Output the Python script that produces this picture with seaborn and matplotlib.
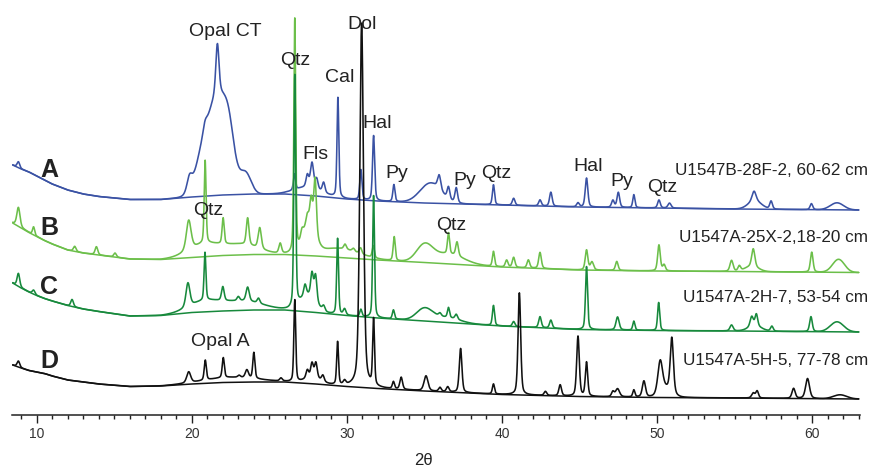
import numpy as np
import pandas as pd
import matplotlib
matplotlib.use("Agg")
import matplotlib.pyplot as plt
from matplotlib.ticker import MultipleLocator
import seaborn as sns

# ---------------- data (2θ in degrees, intensity in stacked arbitrary units) -------------
bg_x = [8.45, 9, 9.5, 10, 10.5, 11, 12, 13, 14, 16, 18, 20, 22, 24, 26, 28, 30, 32, 35, 40, 45, 50, 55, 63]
bg_A = [250, 246, 243, 239, 235, 231, 225, 221, 218.5, 215.5, 215.5, 218, 220, 221, 221, 219, 216, 214, 212, 210, 208, 207, 206, 205]
bg_B = [192, 187, 182.5, 178.5, 174.5, 171, 165, 162, 160, 156, 155.5, 157.5, 159.5, 160.5, 160.5, 159, 157, 155, 152.5, 148, 145, 144, 143.5, 142.5]
bg_C = [132, 127, 123, 119.5, 116.5, 114, 109.5, 106, 103.5, 99, 99.5, 102.5, 104, 105, 105, 102.5, 99.5, 97, 94, 89, 85.5, 84.5, 84, 83]
bg_D = [50, 47, 44.5, 43, 41.5, 39, 35, 33, 31, 28.5, 29, 31, 32.5, 33, 33, 31, 28.5, 26.5, 24, 20.5, 18.5, 17.5, 17, 16]

# sharp reflections: position, height above background, half width
A_pk_pos = [8.82, 19.85, 20.85, 21.65, 26.62, 27.45, 27.75, 28.05, 28.5, 29.42, 30.9, 31.72, 33.03, 35.95,
            36.55, 37.05, 39.45, 40.75, 42.45, 43.15, 44.9, 45.45, 47.15, 47.5, 48.5, 50.12, 50.8, 56.25, 57.35, 59.95]
A_pk_h = [6, 15, 8, 50, 16, 12, 25, 10, 10, 100, 30, 65, 17, 14,
          12, 15, 20, 7, 6, 14, 4, 29, 7, 15, 13, 8, 5, 10, 8, 6]
A_pk_w = [0.1, 0.2, 0.15, 0.12, 0.08, 0.1, 0.12, 0.1, 0.1, 0.07, 0.08, 0.08, 0.08, 0.12,
          0.1, 0.1, 0.08, 0.1, 0.1, 0.1, 0.1, 0.1, 0.1, 0.1, 0.08, 0.1, 0.12, 0.15, 0.1, 0.1]
# broad (amorphous / poorly crystalline) contributions
A_hump_pos = [21.7, 20.6, 22.4, 23.5, 27.5, 35.4, 56.3, 61.6]
A_hump_h = [100, 20, 22, 18, 8, 20, 8, 7]
A_hump_w = [0.85, 0.5, 0.35, 0.4, 1.0, 0.8, 0.5, 0.5]

B_pk_pos = [8.82, 9.8, 12.45, 13.85, 15.05, 19.8, 20.86, 22.02, 23.6, 24.38, 25.7, 26.64, 27.1, 27.45, 27.7,
            27.95, 29.88, 30.42, 30.88, 31.7, 33.05, 36.55, 37.1, 39.45, 40.3, 40.75, 41.7, 42.45, 45.45,
            45.8, 47.4, 50.12, 50.45, 54.8, 55.3, 56.2, 59.97]
B_pk_h = [19, 8, 5, 8, 4, 30, 83, 26, 27, 21, 10, 234, 8, 8, 25,
          55, 5, 3, 6, 12, 24, 21, 14, 15, 7, 10, 8, 16, 20,
          8, 9, 26, 6, 11, 5, 18, 20]
B_pk_w = [0.12, 0.08, 0.1, 0.1, 0.1, 0.18, 0.07, 0.08, 0.1, 0.12, 0.1, 0.07, 0.1, 0.1, 0.1,
          0.1, 0.1, 0.1, 0.1, 0.08, 0.08, 0.08, 0.1, 0.08, 0.1, 0.1, 0.1, 0.1, 0.1,
          0.12, 0.1, 0.1, 0.1, 0.12, 0.1, 0.12, 0.1]
B_hump_pos = [20.8, 23.2, 27.55, 29.5, 35.0, 36.5, 56.1, 61.7]
B_hump_h = [12, 10, 30, 9, 16, 10, 5, 13]
B_hump_w = [1.2, 1.3, 0.45, 1.5, 0.6, 1.2, 0.5, 0.45]

C_pk_pos = [8.82, 9.8, 12.28, 19.75, 20.85, 22.0, 23.0, 23.6, 24.3, 26.64, 27.3, 27.75, 27.98, 28.5, 29.4,
            29.85, 30.9, 31.72, 33.0, 36.0, 36.55, 37.05, 39.45, 40.75, 42.45, 43.15, 45.45, 47.45, 48.5,
            50.1, 54.8, 56.1, 56.4, 57.4, 59.92]
C_pk_h = [13, 4, 7, 24, 48, 14, 4, 14, 5, 232, 11, 24, 26, 5, 76,
          6, 7, 122, 9, 3, 10, 5, 20, 5, 11, 8, 63, 13, 9,
          28, 6, 10, 12, 5, 15]
C_pk_w = [0.1, 0.1, 0.1, 0.15, 0.07, 0.1, 0.1, 0.12, 0.1, 0.07, 0.1, 0.1, 0.1, 0.1, 0.07,
          0.1, 0.08, 0.07, 0.08, 0.1, 0.08, 0.1, 0.08, 0.1, 0.1, 0.1, 0.08, 0.12, 0.08,
          0.08, 0.12, 0.12, 0.1, 0.1, 0.1]
C_hump_pos = [20.8, 23.3, 27.5, 35.0, 36.4, 56.3, 61.6]
C_hump_h = [10, 9, 16, 12, 5, 5, 10]
C_hump_w = [1.2, 1.5, 0.6, 0.6, 1.0, 0.5, 0.5]

D_pk_pos = [8.82, 19.8, 20.87, 22.03, 23.05, 23.55, 24.0, 25.75, 26.64, 27.45, 27.75, 28.0, 28.45, 29.4,
            29.85, 30.95, 31.72, 33.0, 33.5, 35.1, 36.0, 36.5, 37.33, 39.45, 41.12, 42.8, 43.75, 44.9,
            45.45, 47.15, 47.45, 48.5, 49.15, 50.2, 50.95, 56.2, 56.45, 58.8, 59.7]
D_pk_h = [6, 11, 20, 20, 2, 8, 26, 3, 82, 8, 14, 15, 6, 43,
          4, 364, 66, 7, 12, 15, 4, 5, 44, 10, 102, 4, 11, 60,
          34, 5, 8, 7, 16, 33, 55, 5, 7, 10, 20]
D_pk_w = [0.1, 0.15, 0.08, 0.08, 0.1, 0.12, 0.08, 0.1, 0.07, 0.1, 0.1, 0.1, 0.1, 0.07,
          0.1, 0.14, 0.07, 0.08, 0.1, 0.15, 0.1, 0.1, 0.1, 0.08, 0.1, 0.1, 0.1, 0.1,
          0.09, 0.1, 0.15, 0.08, 0.12, 0.18, 0.12, 0.12, 0.1, 0.12, 0.15]
D_hump_pos = [22.5, 27.8, 50.6, 61.8]
D_hump_h = [5, 6, 8, 4]
D_hump_w = [2.0, 0.6, 0.4, 0.5]

sample_ids = ["A", "B", "C", "D"]
sample_names = ["U1547B-28F-2, 60-62 cm", "U1547A-25X-2,18-20 cm",
                "U1547A-2H-7, 53-54 cm", "U1547A-5H-5, 77-78 cm"]
colors = ["#3a52a4", "#6cbf4a", "#17893c", "#111111"]

peak_labels = ["Opal CT", "Qtz", "Dol", "Cal", "Hal", "Fls", "Py", "Py", "Qtz", "Hal", "Py", "Qtz",
               "Qtz", "Qtz", "Opal A"]
peak_label_x = [22.14, 26.65, 30.95, 29.56, 31.96, 27.97, 33.24, 37.58, 39.64, 45.56, 47.7, 50.34,
                21.07, 36.76, 21.85]
peak_label_y = [379, 350, 386, 333, 287, 256, 236.7, 230, 237.3, 244.3, 229, 223.3,
                200, 185, 69.3]
id_label_y = [238.3, 180, 121, 46.7]
name_label_y = [240, 173.3, 113.3, 50]

# ---------------- build patterns --------------------------------------------------------
tt = np.arange(8.45, 63.0001, 0.01)


def pattern(bg, pos, h, w, hpos, hh, hw, eta=0.4):
    y = np.interp(tt, bg_x, bg)
    for c, a, s in zip(pos, h, w):
        u = (tt - c) / s
        y = y + a * (eta / (1 + u ** 2) + (1 - eta) * np.exp(-np.log(2) * u ** 2))
    for c, a, s in zip(hpos, hh, hw):
        u = (tt - c) / s
        y = y + a * np.exp(-np.log(2) * u ** 2)
    return y


curves = [
    pattern(bg_A, A_pk_pos, A_pk_h, A_pk_w, A_hump_pos, A_hump_h, A_hump_w),
    pattern(bg_B, B_pk_pos, B_pk_h, B_pk_w, B_hump_pos, B_hump_h, B_hump_w),
    pattern(bg_C, C_pk_pos, C_pk_h, C_pk_w, C_hump_pos, C_hump_h, C_hump_w),
    pattern(bg_D, D_pk_pos, D_pk_h, D_pk_w, D_hump_pos, D_hump_h, D_hump_w),
]
bgs = [bg_A, bg_B, bg_C, bg_D]

# ---------------- plot -------------------------------------------------------------------
sns.set_theme(style="white")
plt.rcParams["font.family"] = ["Liberation Sans", "DejaVu Sans"]

W, H = 871, 468
fig = plt.figure(figsize=(W / 100, H / 100), dpi=100)
x_left_px, x_right_px, y_axis_px = 12, 859.5, 415
ax = fig.add_axes([x_left_px / W, (H - y_axis_px) / H, (x_right_px - x_left_px) / W, y_axis_px / H])
ax.set_facecolor("none")

for sid, col, bg, cy in zip(sample_ids, colors, bgs, curves):
    sns.lineplot(x=bg_x, y=bg, ax=ax, color=col, linewidth=1.1, estimator=None, sort=False)
    df = pd.DataFrame({"2θ": tt, "I": cy})
    sns.lineplot(data=df, x="2θ", y="I", ax=ax, color=col, linewidth=1.15, estimator=None, sort=False)

ax.set_xlim(8.407, 63.05)
ax.set_ylim(0, 415)

for s in ["left", "right", "top"]:
    ax.spines[s].set_visible(False)
ax.spines["bottom"].set_color("#222222")
ax.spines["bottom"].set_linewidth(1.1)
ax.set_yticks([])
ax.set_ylabel("")
ax.set_xlabel("")
ax.set_xticks([10, 20, 30, 40, 50, 60])
ax.xaxis.set_minor_locator(MultipleLocator(1))
ax.tick_params(axis="x", which="major", direction="out", length=5.8, width=1.0, color="#222222",
               labelsize=10, labelcolor="#333333", pad=3.0, bottom=True)
ax.tick_params(axis="x", which="minor", direction="out", length=3.0, width=1.0, color="#222222", bottom=True)
fig.text(423 / W, 1 - 465 / H, "2θ", ha="center", va="baseline", fontsize=12, color="#222222")

for lab, xx, yy in zip(peak_labels, peak_label_x, peak_label_y):
    ax.text(xx, yy, lab, ha="center", va="baseline", fontsize=14, color="#222222")
for sid, yy in zip(sample_ids, id_label_y):
    ax.text(10.79, yy, sid, ha="center", va="baseline", fontsize=18, fontweight="bold", color="#222222")
for nm, yy in zip(sample_names, name_label_y):
    ax.text(63.61, yy, nm, ha="right", va="baseline", fontsize=12.3, color="#222222", clip_on=False)

fig.savefig("out.png", dpi=100)
